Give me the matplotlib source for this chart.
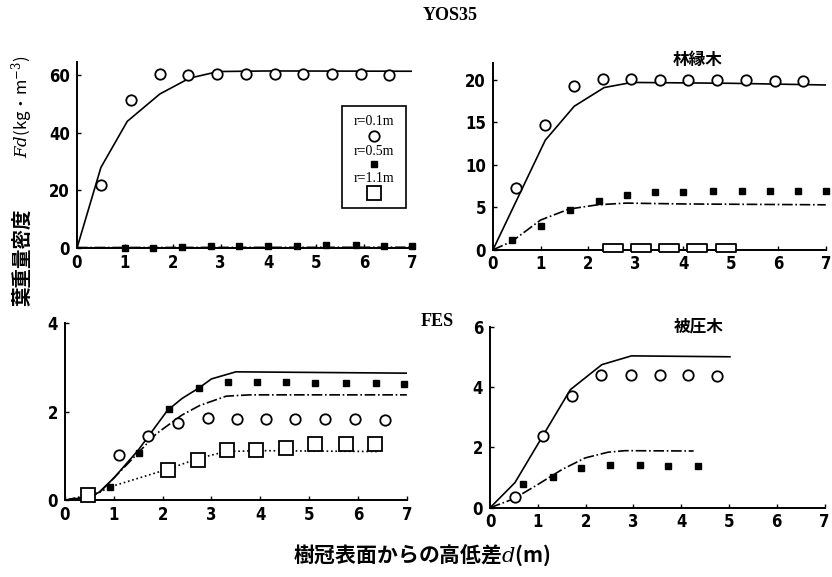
import numpy as np
import matplotlib
matplotlib.use("Agg")
import matplotlib.pyplot as plt
from matplotlib.patches import Rectangle

plt.rcParams['font.family'] = ['Noto Sans CJK JP', 'DejaVu Sans']
plt.rcParams['mathtext.fontset'] = 'dejavuserif'

# ---- YOS35 (top left) ----
tl_c_x = [0.5, 1.13, 1.73, 2.32, 2.92, 3.53, 4.13, 4.72, 5.32, 5.92, 6.52]
tl_c_y = [22, 51.5, 60.5, 60, 60.5, 60.5, 60.5, 60.5, 60.5, 60.5, 60]
tl_line_x = [0, 0.5, 1.05, 1.73, 2.35, 2.95, 4.0, 7.0]
tl_line_y = [0, 28, 44, 53.5, 59, 61.3, 61.5, 61.4]
tl_s_x = [1.0, 1.59, 2.19, 2.8, 3.38, 3.99, 4.59, 5.2, 5.82, 6.41, 7.0]
tl_s_y = [0.0, 0.2, 0.5, 0.7, 0.9, 0.9, 0.9, 1.0, 1.0, 0.8, 0.7]
tl_dd_x = [0, 7]
tl_dd_y = [0.2, 0.3]

# ---- 林縁木 (top right) ----
tr_c_x = [0.49, 1.1, 1.71, 2.31, 2.91, 3.51, 4.11, 4.72, 5.33, 5.93, 6.52]
tr_c_y = [7.3, 14.7, 19.3, 20.1, 20.1, 20.0, 20.0, 20.0, 20.0, 19.9, 19.9]
tr_line_x = [0, 1.1, 1.71, 2.34, 2.92, 5.0, 7.0]
tr_line_y = [0, 12.9, 16.9, 19.1, 19.7, 19.6, 19.4]
tr_s_x = [0.4, 1.01, 1.61, 2.22, 2.81, 3.41, 4.0, 4.62, 5.23, 5.82, 6.42, 7.0]
tr_s_y = [1.1, 2.75, 4.7, 5.7, 6.5, 6.75, 6.8, 6.9, 6.9, 6.9, 6.9, 6.9]
tr_dd_x = [0, 0.4, 1.0, 1.6, 2.2, 2.8, 4.0, 7.0]
tr_dd_y = [0, 1.0, 3.5, 4.8, 5.3, 5.5, 5.4, 5.3]
tr_q_x = [2.52, 3.11, 3.7, 4.3, 4.91]
tr_q_y = [0.25, 0.25, 0.25, 0.25, 0.25]

# ---- FES (bottom left) ----
bl_line_x = [0, 0.5, 0.7, 1.0, 1.5, 2.1, 2.4, 2.75, 3.0, 3.5, 7.0]
bl_line_y = [0, 0.08, 0.18, 0.5, 1.13, 2.03, 2.3, 2.54, 2.74, 2.9, 2.87]
bl_s_x = [0.92, 1.52, 2.13, 2.75, 3.34, 3.94, 4.53, 5.13, 5.76, 6.36, 6.95]
bl_s_y = [0.3, 1.07, 2.05, 2.54, 2.67, 2.67, 2.67, 2.65, 2.65, 2.65, 2.62]
bl_c_x = [1.11, 1.7, 2.32, 2.93, 3.52, 4.12, 4.72, 5.32, 5.94, 6.56]
bl_c_y = [1.02, 1.45, 1.75, 1.86, 1.84, 1.84, 1.84, 1.84, 1.84, 1.82]
bl_dd_x = [0, 0.7, 1.0, 1.5, 1.87, 2.39, 2.76, 3.3, 3.78, 7.0]
bl_dd_y = [0, 0.17, 0.5, 1.07, 1.5, 1.92, 2.14, 2.35, 2.38, 2.38]
bl_q_x = [0.48, 2.11, 2.73, 3.32, 3.92, 4.52, 5.13, 5.75, 6.34]
bl_q_y = [0.11, 0.68, 0.9, 1.14, 1.14, 1.19, 1.26, 1.26, 1.26]
bl_dot_x = [0, 0.6, 0.92, 2.1, 2.75, 3.3, 4.0, 6.44]
bl_dot_y = [0, 0.12, 0.3, 0.7, 0.95, 1.1, 1.12, 1.1]

# ---- 被圧木 (bottom right) ----
br_line_x = [0, 0.52, 1.1, 1.68, 2.34, 2.96, 5.02]
br_line_y = [0, 0.83, 2.37, 3.91, 4.74, 5.03, 5.0]
br_c_x = [0.52, 1.1, 1.72, 2.32, 2.94, 3.55, 4.14, 4.76]
br_c_y = [0.36, 2.37, 3.69, 4.39, 4.39, 4.39, 4.39, 4.37]
br_s_x = [0.7, 1.31, 1.91, 2.52, 3.13, 3.73, 4.35]
br_s_y = [0.79, 1.01, 1.32, 1.41, 1.41, 1.38, 1.38]
br_dd_x = [0, 0.5, 1.0, 1.51, 1.99, 2.47, 2.82, 4.26]
br_dd_y = [0, 0.3, 0.77, 1.27, 1.65, 1.84, 1.89, 1.88]

x_ticks = [0, 1, 2, 3, 4, 5, 6, 7]

rect_marker = [(-1, -0.45), (1, -0.45), (1, 0.45), (-1, 0.45), (-1, -0.45)]

fig = plt.figure(figsize=(8.32, 5.77), dpi=100)
ax_tl = fig.add_axes([0.0925, 0.570, 0.403, 0.322])
ax_tr = fig.add_axes([0.5925, 0.567, 0.400, 0.324])
ax_bl = fig.add_axes([0.078, 0.133, 0.411, 0.307])
ax_br = fig.add_axes([0.589, 0.120, 0.402, 0.314])


def style(ax, ymax, yticks):
    ax.set_xlim(0, 7)
    ax.set_ylim(0, ymax)
    ax.set_xticks(x_ticks)
    ax.set_yticks(yticks)
    for s in ['top', 'right']:
        ax.spines[s].set_visible(False)
    for s in ['left', 'bottom']:
        ax.spines[s].set_linewidth(1.4)
    ax.tick_params(direction='in', length=3, width=1)
    ax.tick_params(axis='x', pad=4)
    ax.tick_params(axis='y', pad=5)
    for lab in ax.get_xticklabels() + ax.get_yticklabels():
        lab.set_family('DejaVu Sans')
        lab.set_fontstretch('condensed')
        lab.set_fontsize(12)
        lab.set_fontweight('bold')


open_c = dict(ls='none', marker='o', ms=7.5, mfc='white', mec='black', mew=1.3, clip_on=False, zorder=3)
fill_s = dict(ls='none', marker='s', ms=4, color='black', clip_on=False, zorder=3)
open_s = dict(ls='none', marker='s', ms=10, mfc='white', mec='black', mew=1.3, clip_on=False, zorder=3)

# top left
ax_tl.plot(tl_line_x, tl_line_y, color='black', lw=1.2)
ax_tl.plot(tl_dd_x, tl_dd_y, color='black', lw=1.2, ls='-.')
ax_tl.plot(tl_c_x, tl_c_y, **open_c)
ax_tl.plot(tl_s_x, tl_s_y, **fill_s)
style(ax_tl, 64.5, [0, 20, 40, 60])

# legend box
ax_tl.add_patch(Rectangle((0.79, 0.215), 0.192, 0.548, transform=ax_tl.transAxes,
                          fill=False, lw=1.2, ec='black'))
leg_font = {'family': ['Liberation Serif', 'DejaVu Serif'], 'size': 10}
ax_tl.text(0.887, 0.683, 'r=0.1m', transform=ax_tl.transAxes, ha='center', va='center', fontdict=leg_font)
ax_tl.plot([0.887], [0.602], transform=ax_tl.transAxes, **open_c)
ax_tl.text(0.887, 0.52, 'r=0.5m', transform=ax_tl.transAxes, ha='center', va='center', fontdict=leg_font)
ax_tl.plot([0.887], [0.452], transform=ax_tl.transAxes, **fill_s)
ax_tl.text(0.887, 0.376, 'r=1.1m', transform=ax_tl.transAxes, ha='center', va='center', fontdict=leg_font)
ax_tl.plot([0.887], [0.296], transform=ax_tl.transAxes, **open_s)

# top right
ax_tr.plot(tr_line_x, tr_line_y, color='black', lw=1.2)
ax_tr.plot(tr_dd_x, tr_dd_y, color='black', lw=1.2, ls='-.')
ax_tr.plot(tr_c_x, tr_c_y, **open_c)
ax_tr.plot(tr_s_x, tr_s_y, **fill_s)
ax_tr.plot(tr_q_x, tr_q_y, **dict(open_s, marker=rect_marker, ms=14))
style(ax_tr, 22, [0, 5, 10, 15, 20])
ax_tr.text(0.616, 1.016, '林縁木', transform=ax_tr.transAxes, ha='center', va='center',
           fontsize=12, fontweight='bold')

# bottom left
ax_bl.plot(bl_line_x, bl_line_y, color='black', lw=1.2)
ax_bl.plot(bl_dd_x, bl_dd_y, color='black', lw=1.2, ls='-.')
ax_bl.plot(bl_dot_x, bl_dot_y, color='black', lw=1.2, ls=':')
ax_bl.plot(bl_c_x, bl_c_y, **open_c)
ax_bl.plot(bl_s_x, bl_s_y, **fill_s)
ax_bl.plot(bl_q_x, bl_q_y, **open_s)
style(ax_bl, 4, [0, 2, 4])

# bottom right
ax_br.plot(br_line_x, br_line_y, color='black', lw=1.2)
ax_br.plot(br_dd_x, br_dd_y, color='black', lw=1.2, ls='-.')
ax_br.plot(br_c_x, br_c_y, **open_c)
ax_br.plot(br_s_x, br_s_y, **fill_s)
style(ax_br, 6, [0, 2, 4, 6])
ax_br.text(0.625, 1.0, '被圧木', transform=ax_br.transAxes, ha='center', va='center',
           fontsize=12, fontweight='bold')

# titles and labels
serif_b = {'family': ['Liberation Serif', 'DejaVu Serif'], 'weight': 'bold', 'size': 13}
fig.text(0.541, 0.974, 'YOS35', ha='center', va='center', fontdict=serif_b)
fig.text(0.526, 0.442, 'FES', ha='center', va='center', fontdict=serif_b)
fig.text(0.027, 1 - 257 / 577, '葉重量密度', rotation=90, ha='center', va='center',
         fontsize=14, fontweight='bold')
fig.text(0.027, 1 - 107 / 577, '$Fd$(kg・m$^{-3}$)', rotation=90, ha='center', va='center',
         fontsize=12)
fig.text(0.507, 0.038, '樹冠表面からの高低差$d$(m)', ha='center', va='center',
         fontsize=15, fontweight='bold')

fig.savefig('out.png', dpi=100)
